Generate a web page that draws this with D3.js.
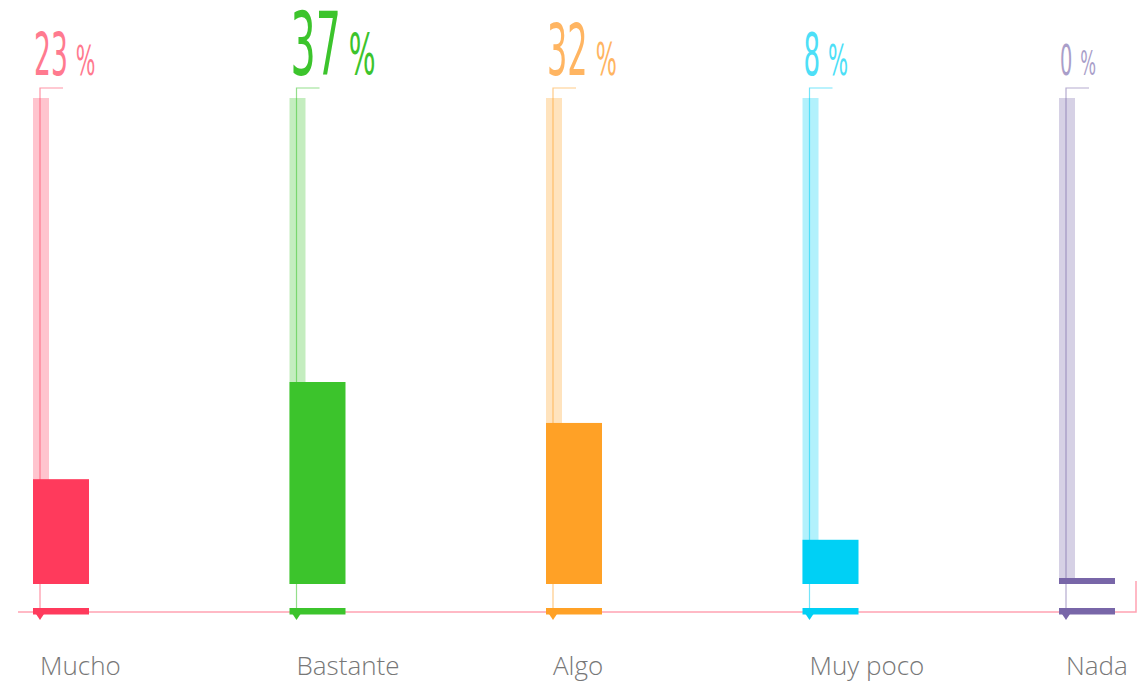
<!DOCTYPE html>
<html>
<head>
<meta charset="utf-8">
<script src="https://cdn.jsdelivr.net/npm/d3@7"></script>
<style>
  body { margin: 0; background: #fff; }
  #canvas { width: 1144px; height: 685px; }
</style>
</head>
<body>
<div id="canvas"></div>
<script>
// answers and what the picture shows for each one
var categories = ["Mucho", "Bastante", "Algo", "Muy poco", "Nada"];
var shares = [23, 37, 32, 8, 0];            // the printed percentages
var barLevels = [19.2, 37, 29.5, 8.1, 0];   // bar lengths as drawn, same units

var colors = ["#ff3a5c", "#3cc42c", "#ffa126", "#00d0f5", "#7866a8"];
var labelColors = ["#ff7a8f", "#3cc42c", "#ffb562", "#4ddff7", "#a99ec9"];
var numberSizes = [59, 88, 71, 58, 43];
var pctSizes = [41, 56, 44, 42, 33];

window.app = {}

window.app.RenderChart = function () {
  var width = 1144, height = 685;
  var base = 584, trackTop = 98, bracketY = 88, axisY = 612;

  var svg = d3.select("#canvas").append("svg")
      .attr("width", width)
      .attr("height", height);

  var x = d3.scaleBand()
      .domain(categories)
      .range([33, 1115])
      .paddingInner(0.7817)
      .paddingOuter(0);

  var y = d3.scaleLinear()
      .domain([0, 37])
      .range([base, 382]);

  var bw = x.bandwidth();

  // axis line with the little hook on the right
  svg.append("path")
      .attr("d", "M18," + axisY + "H1136V581")
      .attr("fill", "none")
      .attr("stroke", "#ffa3b3")
      .attr("stroke-width", 1.5);

  var g = svg.selectAll("g.cat")
      .data(categories)
      .enter().append("g")
      .attr("class", "cat")
      .attr("transform", function (d) { return "translate(" + x(d) + ",0)"; });

  // pale track
  g.append("rect")
      .attr("x", 0)
      .attr("y", trackTop)
      .attr("width", 16)
      .attr("height", base - trackTop)
      .attr("fill", function (d, i) { return colors[i]; })
      .attr("opacity", 0.3);

  // thin line with bracket at the top
  g.append("path")
      .attr("d", "M30," + bracketY + "H7V" + (axisY + 2))
      .attr("fill", "none")
      .attr("stroke", function (d, i) { return colors[i]; })
      .attr("stroke-opacity", 0.55)
      .attr("stroke-width", 1.2);

  // main bar (min height so 0 still shows)
  g.append("rect")
      .attr("x", 0)
      .attr("width", bw)
      .attr("y", function (d, i) { return Math.min(y(barLevels[i]), base - 6); })
      .attr("height", function (d, i) { return Math.max(base - y(barLevels[i]), 6); })
      .attr("fill", function (d, i) { return colors[i]; });

  // small bar on the axis and the pointer
  g.append("rect")
      .attr("x", 0)
      .attr("y", 608)
      .attr("width", bw)
      .attr("height", 6.5)
      .attr("fill", function (d, i) { return colors[i]; });

  g.append("path")
      .attr("d", "M3,614L11,614L7,620Z")
      .attr("fill", function (d, i) { return colors[i]; });

  // category names
  g.append("text")
      .attr("x", 7)
      .attr("y", 675)
      .attr("font-family", "'Open Sans', sans-serif")
      .attr("font-weight", 300)
      .attr("font-size", 26)
      .attr("fill", "#777")
      .text(function (d) { return d; });

  // percentages, narrow type
  var lab = g.append("g")
      .attr("fill", function (d, i) { return labelColors[i]; })
      .attr("font-family", "'DejaVu Sans Condensed', 'DejaVu Sans', sans-serif");

  lab.each(function (d, i) {
    var el = d3.select(this);
    var num = el.append("text")
        .attr("transform", "translate(1,75) scale(0.5,1)")
        .attr("font-size", numberSizes[i])
        .text(shares[i]);
    var w = num.node().getComputedTextLength() * 0.5;
    el.append("text")
        .attr("transform", "translate(" + (1 + w + 8) + ",75) scale(0.56,1)")
        .attr("font-size", pctSizes[i])
        .text("%");
  });
}

window.app.RenderChart();
</script>
</body>
</html>
